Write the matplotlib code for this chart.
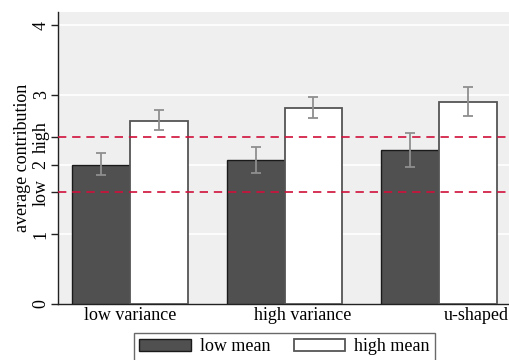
import matplotlib
matplotlib.use("Agg")
import matplotlib.pyplot as plt
import numpy as np

plt.rcParams['font.family'] = ['Liberation Serif', 'DejaVu Serif']

groups = ["low variance", "high variance", "u-shaped"]
low_mean = [2.00, 2.06, 2.21]
low_lo = [1.85, 1.88, 1.97]
low_hi = [2.16, 2.25, 2.45]
high_mean = [2.62, 2.81, 2.90]
high_lo = [2.49, 2.67, 2.70]
high_hi = [2.78, 2.97, 3.11]
ref_low = 1.6
ref_high = 2.4

x = np.arange(len(groups))
w = 0.375

fig = plt.figure(figsize=(5.09, 3.60), dpi=100)
ax = fig.add_axes([58/509, 1-304/360, 1-58/509, (304-12)/360])
ax.set_facecolor('#efefef')

ax.bar(x - w/2, low_mean, w, color='#505050', edgecolor='#1a1a1a', lw=1.0, zorder=3, label='low mean')
ax.bar(x + w/2, high_mean, w, color='white', edgecolor='#555555', lw=1.3, zorder=3, label='high mean')

lm = np.array(low_mean); hm = np.array(high_mean)
ax.errorbar(x - w/2, lm, yerr=[lm - np.array(low_lo), np.array(low_hi) - lm], fmt='none',
            ecolor='#8f8f8f', elinewidth=1.3, capsize=3.5, capthick=1.3, zorder=4)
ax.errorbar(x + w/2, hm, yerr=[hm - np.array(high_lo), np.array(high_hi) - hm], fmt='none',
            ecolor='#8f8f8f', elinewidth=1.3, capsize=3.5, capthick=1.3, zorder=4)

ax.axhline(ref_low, color='#d0103a', lw=1.2, ls=(0, (5, 3.5)), zorder=5)
ax.axhline(ref_high, color='#d0103a', lw=1.2, ls=(0, (5, 3.5)), zorder=5)

for v in [1, 2, 3, 4]:
    ax.axhline(v, color='white', lw=1.2, zorder=1)

ax.set_xlim(-0.466, 2.453)
ax.set_ylim(0, 4.19)

ax.set_yticks([0, 1, ref_low, 2, ref_high, 3, 4])
ax.set_yticklabels(['0', '1', 'low', '2', 'high', '3', '4'], rotation=90, va='center', fontsize=13)
ax.set_xticks([0, 1.12, 2.24])
ax.set_xticklabels(groups, fontsize=13)
ax.tick_params(axis='x', length=0, pad=2)
ax.tick_params(axis='y', length=5, width=1, pad=1, color='#222222')
ax.set_ylabel('average contribution', fontsize=13, labelpad=1)

for s in ['top', 'right']:
    ax.spines[s].set_visible(False)
for s in ['left', 'bottom']:
    ax.spines[s].set_color('#222222')
    ax.spines[s].set_linewidth(1.0)

leg = fig.legend(loc='upper center', bbox_to_anchor=(0.559, 0.075), ncol=2, fontsize=13,
                 frameon=True, fancybox=False, edgecolor='#444444', handlelength=2.85,
                 handleheight=0.7, columnspacing=1.3, handletextpad=0.5, borderpad=0.3,
                 borderaxespad=0)
leg.get_frame().set_linewidth(1.0)

plt.savefig('out.png', dpi=100)
